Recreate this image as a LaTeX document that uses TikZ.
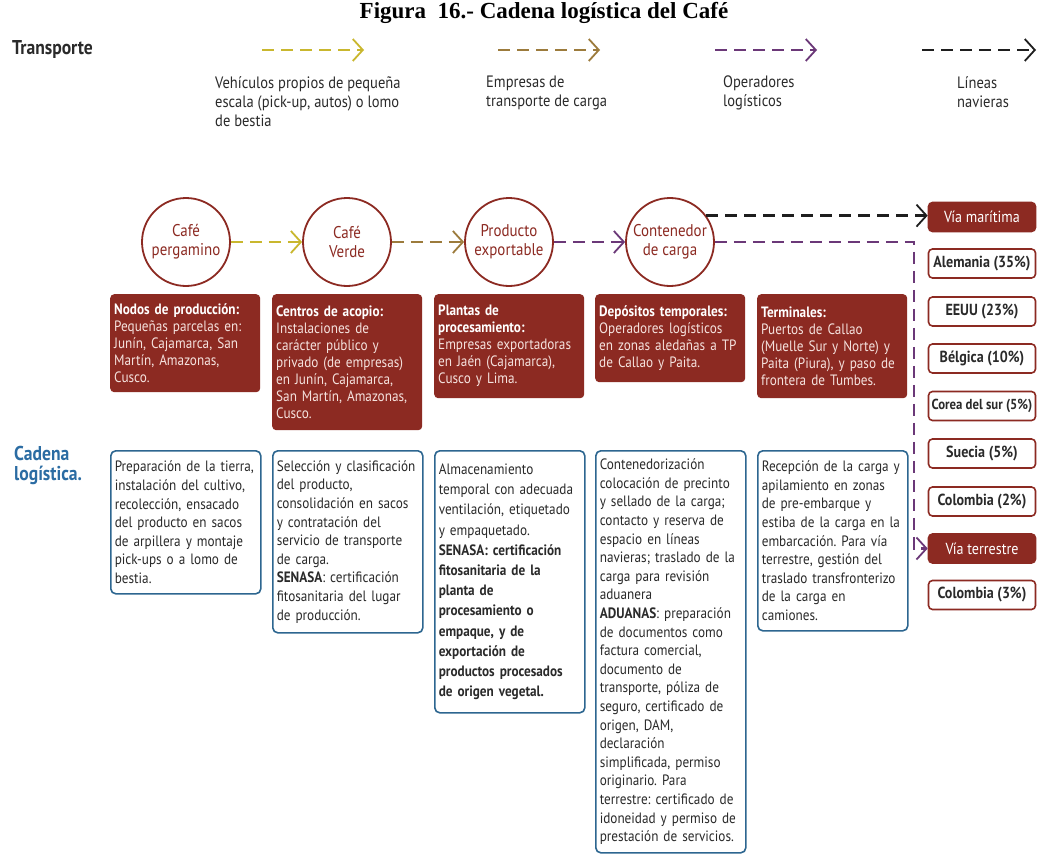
\documentclass[tikz,border=0pt]{standalone}
\usepackage{fontspec}
\setmainfont{Liberation Serif}
\newfontfamily\cf[FakeStretch=0.88]{PT Sans}
\usetikzlibrary{arrows.meta}
\definecolor{cRed}{HTML}{8C2A22}
\definecolor{cPink}{HTML}{F5E2DE}
\definecolor{cBlue}{HTML}{2D6690}
\definecolor{cBlueT}{HTML}{2B6CA3}
\definecolor{cTxt}{HTML}{2A2A2A}
\definecolor{cYel}{HTML}{C9B72E}
\definecolor{cBrn}{HTML}{9C7B3C}
\definecolor{cPur}{HTML}{6B3878}
\definecolor{cBlk}{HTML}{1E1E1E}
\newcommand\redhead[1]{{\bfseries\color{white}#1}}
\frenchspacing
\begin{document}
\begin{tikzpicture}[x=1pt,y=-1pt,
  redbox/.style={fill=cRed, rounded corners=4pt, anchor=north west, text width=142pt,
    inner xsep=4pt, inner ysep=5pt, align=left, text=cPink, font=\cf\fontsize{15}{17}\selectfont},
  bluebox/.style={draw=cBlue, line width=1.6pt, fill=white, rounded corners=5pt, anchor=north west,
    text width=142pt, inner xsep=4pt, inner ysep=5pt, align=left, text=cTxt,
    font=\cf\fontsize{15}{18.6}\selectfont},
  circ/.style={circle, draw=cRed, line width=1.8pt, minimum size=88pt, inner sep=0pt, align=center,
    text=cRed, font=\cf\fontsize{17}{19}\selectfont},
  dest/.style={draw=cRed, line width=1.6pt, fill=white, rounded corners=4pt, minimum width=107pt,
    minimum height=29pt, inner sep=0pt, text=cTxt, font=\cf\bfseries\fontsize{16}{18}\selectfont},
  via/.style={dest, fill=cRed, text=white, font=\cf\fontsize{16}{18}\selectfont},
  leg/.style={anchor=north west, inner sep=0pt, align=left, text=cTxt, font=\cf\fontsize{16.5}{19}\selectfont},
  flow/.style={line width=2.6pt, dash pattern=on 12pt off 7pt,
    -{Straight Barb[length=10pt,width=22pt,line width=1.8pt]}}
]
\useasboundingbox (0,0) rectangle (1042,856);
\fill[white] (0,0) rectangle (1042,856);

% title
\node (title) at (544,13) {\bfseries\fontsize{23}{25}\selectfont Figura\ \ 16.- Cadena logística del Café};

% transport legend
\node[anchor=west, inner sep=0pt, text=cTxt, font=\cf\bfseries\fontsize{20}{22}\selectfont] (tr) at (12,50) {Transporte};
\coordinate (y1) at (262,50); \coordinate (y2) at (364,50);
\coordinate (b1) at (498,50); \coordinate (b2) at (600,50);
\coordinate (p1) at (715,50); \coordinate (p2) at (817,50);
\coordinate (k1) at (922,50); \coordinate (k2) at (1036,50);
\draw[flow, cYel] (y1) -- (y2);
\draw[flow, cBrn] (b1) -- (b2);
\draw[flow, cPur] (p1) -- (p2);
\draw[flow, cBlk] (k1) -- (k2);
\node[leg] (l1) at (215,76) {Vehículos propios de pequeña\\escala (pick-up, autos) o lomo\\de bestia};
\node[leg] (l2) at (486,76) {Empresas de\\transporte de carga};
\node[leg] (l3) at (723,76) {Operadores\\logísticos};
\node[leg] (l4) at (957,76) {Líneas\\navieras};

% products
\node[circ] (c1) at (186,242) {Café\\pergamino};
\node[circ] (c2) at (347,242) {Café\\Verde};
\node[circ] (c3) at (509,242) {Producto\\exportable};
\node[circ] (c4) at (670,242) {Contenedor\\de carga};

% destinations
\node[via]  (vm) at (982,217)   {Vía marítima};
\node[dest] (d1) at (982,263.5) {Alemania (35\%)};
\node[dest] (d2) at (982,311.5) {EEUU (23\%)};
\node[dest] (d3) at (982,358.5) {Bélgica (10\%)};
\node[dest] (d4) at (982,406)   {\fontsize{14.5}{16}\selectfont Corea del sur (5\%)};
\node[dest] (d5) at (982,453.5) {Suecia (5\%)};
\node[dest] (d6) at (982,501.5) {Colombia (2\%)};
\node[via]  (vt) at (982,548.5) {Vía terrestre};
\node[dest] (d7) at (982,595)   {Colombia (3\%)};

% flows between products
\draw[flow, cYel] (c1.east) -- (c2.west);
\draw[flow, cBrn] (c2.east) -- (c3.west);
\draw[flow, cPur] (c3.east) -- (c4.west);
\draw[flow, cBlk] (c4.36) -- (c4.36 -| vm.west);
\coordinate (turn) at (914,242);
\draw[flow, cPur] (c4.east) -- (turn) |- (vt.west);

% nodes of the chain
\node[redbox, minimum height=98pt] (r1) at (110,294)
  {\redhead{Nodos de producción:}\\Pequeñas parcelas en:\\Junín, Cajamarca, San\\Martín, Amazonas,\\Cusco.};
\node[redbox, minimum height=136pt] (r2) at (272,294)
  {\redhead{Centros de acopio:}\\Instalaciones de\\carácter público y\\privado (de empresas)\\en Junín, Cajamarca,\\San Martín, Amazonas,\\Cusco.};
\node[redbox, minimum height=104pt] (r3) at (434,294)
  {\redhead{Plantas de\\procesamiento:}\\Empresas exportadoras\\en Jaén (Cajamarca),\\Cusco y Lima.};
\node[redbox, minimum height=88pt] (r4) at (595,294)
  {\redhead{Depósitos temporales:}\\Operadores logísticos\\en zonas aledañas a TP\\de Callao y Paita.};
\node[redbox, minimum height=104pt] (r5) at (757,294)
  {\redhead{Terminales:}\\Puertos de Callao\\(Muelle Sur y Norte) y\\Paita (Piura), y paso de\\frontera de Tumbes.};

% logistic chain label
\node[anchor=north west, inner sep=0pt, align=left, text=cBlueT, font=\cf\bfseries\fontsize{20}{20}\selectfont] (cl) at (14,446) {Cadena\\logística.};

% activities
\node[bluebox, minimum height=143pt] (a1) at (110,450)
  {Preparación de la tierra,\\instalación del cultivo,\\recolección, ensacado\\del producto en sacos\\de arpillera y montaje\\pick-ups o a lomo de\\bestia.};
\node[bluebox, minimum height=182pt] (a2) at (272,450)
  {Selección y clasificación\\del producto,\\consolidación en sacos\\y contratación del\\servicio de transporte\\de carga.\\\textbf{SENASA}: certificación\\fitosanitaria del lugar\\de producción.};
\node[bluebox, minimum height=262pt, font=\cf\fontsize{15}{20.2}\selectfont] (a3) at (434,450)
  {Almacenamiento\\temporal con adecuada\\ventilación, etiquetado\\y empaquetado.\\\textbf{SENASA: certificación\\fitosanitaria de la\\planta de\\procesamiento o\\empaque, y de\\exportación de\\productos procesados\\de origen vegetal.}};
\node[bluebox, minimum height=402pt] (a4) at (595,450)
  {Contenedorización\\colocación de precinto\\y sellado de la carga;\\contacto y reserva de\\espacio en líneas\\navieras; traslado de la\\carga para revisión\\aduanera\\\textbf{ADUANAS}: preparación\\de documentos como\\factura comercial,\\documento de\\transporte, póliza de\\seguro, certificado de\\origen, DAM,\\declaración\\simplificada, permiso\\originario. Para\\terrestre: certificado de\\idoneidad y permiso de\\prestación de servicios.};
\node[bluebox, minimum height=180pt] (a5) at (757,450)
  {Recepción de la carga y\\apilamiento en zonas\\de pre-embarque y\\estiba de la carga en la\\embarcación. Para vía\\terrestre, gestión del\\traslado transfronterizo\\de la carga en\\camiones.};
\end{tikzpicture}
\end{document}
